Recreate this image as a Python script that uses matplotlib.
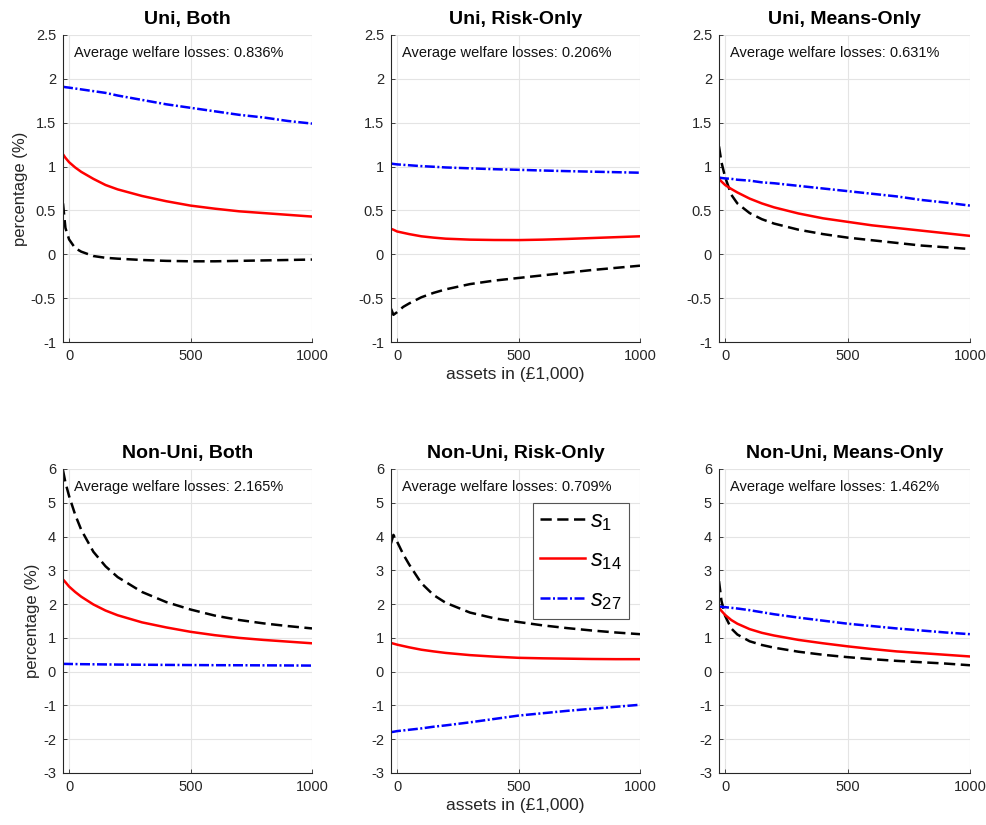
import matplotlib
matplotlib.use("Agg")
import matplotlib.pyplot as plt

plt.rcParams['font.family'] = ['Liberation Sans', 'DejaVu Sans']
plt.rcParams['mathtext.fontset'] = 'custom'
plt.rcParams['mathtext.it'] = 'Liberation Sans:italic'
plt.rcParams['mathtext.rm'] = 'Liberation Sans'
plt.rcParams['axes.unicode_minus'] = False

# asset grid (in £1,000)
assets = [-25, -15, 0, 25, 50, 100, 150, 200, 300, 400, 500, 600, 700, 800, 900, 1000]

titles = ["Uni, Both", "Uni, Risk-Only", "Uni, Means-Only",
          "Non-Uni, Both", "Non-Uni, Risk-Only", "Non-Uni, Means-Only"]
avg_losses = [0.836, 0.206, 0.631, 2.165, 0.709, 1.462]
labels = ["$s_{\\mathit{1}}$", "$s_{\\mathit{14}}$", "$s_{\\mathit{27}}$"]

# welfare losses (%) for s1, s14, s27 in each panel
uni_both_s1 = [0.58, 0.30, 0.17, 0.07, 0.03, -0.02, -0.04, -0.05, -0.065, -0.075, -0.08, -0.08, -0.075, -0.07, -0.065, -0.06]
uni_both_s14 = [1.14, 1.10, 1.05, 0.99, 0.94, 0.86, 0.79, 0.74, 0.665, 0.605, 0.555, 0.52, 0.49, 0.47, 0.45, 0.43]
uni_both_s27 = [1.91, 1.905, 1.90, 1.89, 1.88, 1.86, 1.84, 1.81, 1.76, 1.71, 1.67, 1.63, 1.59, 1.56, 1.52, 1.49]

uni_risk_s1 = [-0.62, -0.69, -0.66, -0.60, -0.56, -0.49, -0.44, -0.40, -0.34, -0.30, -0.27, -0.24, -0.21, -0.18, -0.155, -0.13]
uni_risk_s14 = [0.29, 0.28, 0.26, 0.245, 0.23, 0.205, 0.19, 0.178, 0.167, 0.163, 0.162, 0.167, 0.175, 0.185, 0.195, 0.205]
uni_risk_s27 = [1.035, 1.03, 1.025, 1.02, 1.015, 1.005, 0.998, 0.99, 0.98, 0.97, 0.963, 0.955, 0.948, 0.942, 0.936, 0.93]

uni_means_s1 = [1.23, 1.05, 0.88, 0.68, 0.58, 0.47, 0.40, 0.35, 0.28, 0.23, 0.19, 0.16, 0.13, 0.10, 0.08, 0.06]
uni_means_s14 = [0.86, 0.83, 0.79, 0.745, 0.705, 0.635, 0.58, 0.535, 0.465, 0.41, 0.37, 0.33, 0.30, 0.27, 0.24, 0.21]
uni_means_s27 = [0.875, 0.87, 0.865, 0.86, 0.85, 0.84, 0.82, 0.81, 0.78, 0.75, 0.72, 0.69, 0.66, 0.62, 0.59, 0.555]

nonuni_both_s1 = [5.96, 5.6, 5.2, 4.65, 4.2, 3.55, 3.12, 2.8, 2.36, 2.06, 1.84, 1.66, 1.53, 1.43, 1.35, 1.28]
nonuni_both_s14 = [2.73, 2.65, 2.52, 2.36, 2.22, 1.99, 1.81, 1.67, 1.46, 1.31, 1.18, 1.08, 1.0, 0.94, 0.89, 0.84]
nonuni_both_s27 = [0.23, 0.23, 0.228, 0.225, 0.222, 0.218, 0.214, 0.21, 0.205, 0.2, 0.196, 0.192, 0.19, 0.187, 0.184, 0.18]

nonuni_risk_s1 = [3.8, 4.05, 3.85, 3.48, 3.17, 2.62, 2.27, 2.04, 1.75, 1.58, 1.47, 1.37, 1.29, 1.22, 1.16, 1.11]
nonuni_risk_s14 = [0.85, 0.83, 0.80, 0.76, 0.72, 0.65, 0.60, 0.555, 0.49, 0.445, 0.41, 0.395, 0.385, 0.375, 0.37, 0.37]
nonuni_risk_s27 = [-1.79, -1.78, -1.76, -1.74, -1.72, -1.68, -1.63, -1.59, -1.50, -1.40, -1.30, -1.23, -1.16, -1.10, -1.04, -0.98]

nonuni_means_s1 = [2.68, 2.1, 1.65, 1.28, 1.1, 0.9, 0.79, 0.71, 0.59, 0.50, 0.43, 0.37, 0.32, 0.28, 0.24, 0.19]
nonuni_means_s14 = [1.89, 1.80, 1.68, 1.53, 1.42, 1.26, 1.15, 1.07, 0.94, 0.84, 0.75, 0.67, 0.60, 0.55, 0.50, 0.45]
nonuni_means_s27 = [1.93, 1.92, 1.91, 1.89, 1.87, 1.82, 1.76, 1.70, 1.60, 1.51, 1.42, 1.35, 1.28, 1.22, 1.16, 1.11]

panels = [
    (uni_both_s1, uni_both_s14, uni_both_s27),
    (uni_risk_s1, uni_risk_s14, uni_risk_s27),
    (uni_means_s1, uni_means_s14, uni_means_s27),
    (nonuni_both_s1, nonuni_both_s14, nonuni_both_s27),
    (nonuni_risk_s1, nonuni_risk_s14, nonuni_risk_s27),
    (nonuni_means_s1, nonuni_means_s14, nonuni_means_s27),
]

fig = plt.figure(figsize=(9.87, 8.25), dpi=100)
W, H = 987.0, 825.0
lefts = [63, 391, 719]
widths = [249, 249, 251]
rows = [(35, 342), (469, 773)]

for i, (s1, s14, s27) in enumerate(panels):
    r, c = divmod(i, 3)
    top, bot = rows[r]
    ax = fig.add_axes([lefts[c] / W, 1 - bot / H, widths[c] / W, (bot - top) / H])
    ax.plot(assets, s1, color='black', ls=(0, (4.5, 2.2)), lw=1.8, label=labels[0])
    ax.plot(assets, s14, color='red', ls='-', lw=1.8, label=labels[1])
    ax.plot(assets, s27, color='blue', ls=(0, (4, 1, 0.8, 1)), lw=1.8, label=labels[2])

    ax.set_xlim(-25, 1000)
    ax.set_xticks([0, 500, 1000])
    if r == 0:
        ax.set_ylim(-1, 2.5)
        ax.set_yticks([-1, -0.5, 0, 0.5, 1, 1.5, 2, 2.5])
        ax.set_yticklabels(['-1', '-0.5', '0', '0.5', '1', '1.5', '2', '2.5'])
    else:
        ax.set_ylim(-3, 6)
        ax.set_yticks(range(-3, 7))
    ax.grid(True, color='#e4e4e4', lw=0.8)
    ax.set_axisbelow(True)
    for side in ['top', 'right']:
        ax.spines[side].set_visible(False)
    for side in ['left', 'bottom']:
        ax.spines[side].set_color('#262626')
        ax.spines[side].set_linewidth(0.8)
    ax.tick_params(direction='in', length=3, labelsize=10.5, colors='#262626', width=0.6, pad=5)

    ax.set_title(titles[i], fontsize=14, fontweight='bold', pad=8)
    ax.text(0.045, 0.94, "Average welfare losses: %.3f%%" % avg_losses[i],
            transform=ax.transAxes, fontsize=10.5, va='center', ha='left', color='#111111')
    if c == 0:
        ax.set_ylabel("percentage (%)", fontsize=12, color='#262626', labelpad=2)
    if c == 1:
        ax.set_xlabel("assets in (£1,000)", fontsize=12.5, color='#262626', labelpad=3)
    if i == 4:
        leg = ax.legend(loc='upper right', bbox_to_anchor=(0.955, 0.888), fontsize=17,
                        handlelength=1.9, fancybox=False, framealpha=1,
                        edgecolor='#555555', borderpad=0.3, labelspacing=0.7,
                        handletextpad=0.2, borderaxespad=0)
        leg.get_frame().set_linewidth(0.8)

fig.savefig("out.png", dpi=100)
